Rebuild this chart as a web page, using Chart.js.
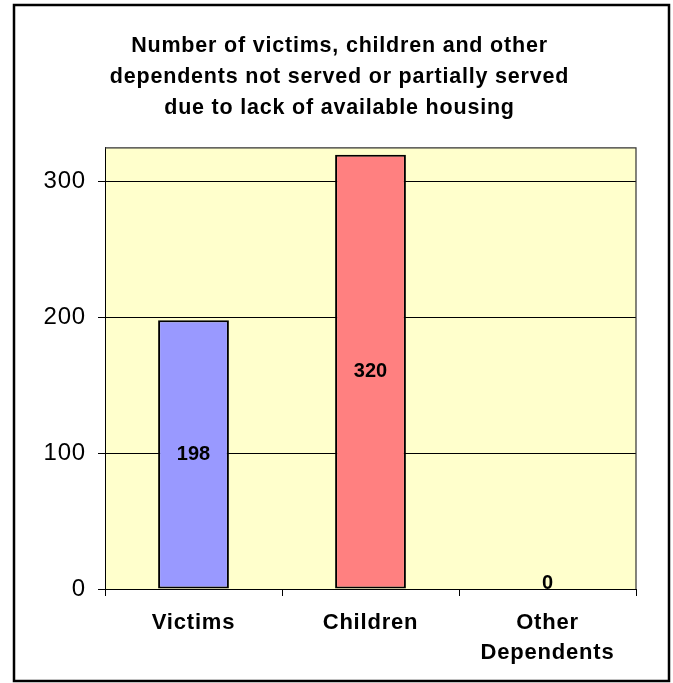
<!DOCTYPE html>
<html>
<head>
<meta charset="utf-8">
<script src="https://cdn.jsdelivr.net/npm/chart.js@4.4.1/dist/chart.umd.min.js"></script>
<style>
  html, body { margin: 0; padding: 0; background: #fff; }
  #wrap { width: 673px; height: 683px; }
</style>
</head>
<body>
<div id="wrap"><canvas id="chart" width="673" height="683"></canvas></div>
<script>
// chart data
const categories = [['Victims'], ['Children'], ['Other', 'Dependents']];
const counts = [198, 320, 0];
const barColors = ['#9999FF', '#FF8080', '#FFFF99'];
const yTicks = [0, 100, 200, 300];
const titleLines = [
    'Number of victims, children and other',
    'dependents not served or partially served',
    'due to lack of available housing'
];

const FONT = 'Arial, "Liberation Sans", sans-serif';

// yellow plot area with a frame round it
const plotArea = {
    id: 'plotArea',
    beforeDraw(chart) {
        const a = chart.chartArea, ctx = chart.ctx;
        ctx.save();
        ctx.fillStyle = '#FFFFCC';
        ctx.fillRect(a.left, a.top, a.right - a.left, a.bottom - a.top);
        ctx.restore();
        // excel-ish loose text spacing for title and axis labels
        ctx.letterSpacing = '0.8px';
    },
    afterDraw(chart) {
        const a = chart.chartArea, ctx = chart.ctx;
        ctx.letterSpacing = '0px';
        ctx.save();
        ctx.strokeStyle = '#333';
        ctx.lineWidth = 1.2;
        ctx.beginPath();
        ctx.moveTo(a.left, a.top);
        ctx.lineTo(a.right, a.top);
        ctx.lineTo(a.right, a.bottom);
        ctx.stroke();
        // outer chart frame
        ctx.strokeStyle = '#000';
        ctx.lineWidth = 2.5;
        ctx.strokeRect(14, 5, 655, 676);
        ctx.restore();
    }
};

// value labels in the middle of each bar
const barLabels = {
    id: 'barLabels',
    afterDatasetsDraw(chart) {
        const ctx = chart.ctx;
        const meta = chart.getDatasetMeta(0);
        ctx.save();
        ctx.letterSpacing = '0px';
        ctx.font = 'bold 20px ' + FONT;
        ctx.fillStyle = '#000';
        ctx.textAlign = 'center';
        ctx.textBaseline = 'middle';
        meta.data.forEach((bar, i) => {
            const v = counts[i];
            const y = v === 0 ? bar.base - 6 : (bar.y + bar.base) / 2;
            ctx.fillText(String(v), bar.x, y);
        });
        ctx.restore();
    }
};

new Chart(document.getElementById('chart'), {
    type: 'bar',
    data: {
        labels: categories,
        datasets: [{
            data: counts,
            backgroundColor: barColors,
            borderColor: '#000',
            borderWidth: 2,
            borderSkipped: false,
            categoryPercentage: 1,
            barPercentage: 0.4
        }]
    },
    options: {
        responsive: false,
        animation: false,
        devicePixelRatio: 1,
        layout: { padding: { left: 43, right: 37, top: 0, bottom: 14 } },
        plugins: {
            legend: { display: false },
            tooltip: { enabled: false },
            title: {
                display: true,
                text: titleLines,
                color: '#000',
                font: { family: FONT, size: 21.5, weight: 'bold', lineHeight: 1.44 },
                padding: { top: 31, bottom: 24 }
            }
        },
        scales: {
            x: {
                grid: {
                    offset: true,
                    drawOnChartArea: false,
                    drawTicks: true,
                    tickLength: 7,
                    color: '#000'
                },
                border: { color: '#000', width: 1 },
                ticks: {
                    color: '#000',
                    maxRotation: 0,
                    padding: 12,
                    font: { family: FONT, size: 22, weight: 'bold', lineHeight: 1.36 }
                },
                afterFit(scale) { scale.height = 80; }
            },
            y: {
                min: 0,
                max: 325,
                grid: { color: '#000', lineWidth: 1, tickLength: 7 },
                border: { color: '#000', width: 1 },
                ticks: {
                    stepSize: 100,
                    color: '#000',
                    padding: 12,
                    font: { family: FONT, size: 24 }
                },
                afterBuildTicks(scale) {
                    scale.ticks = yTicks.map(v => ({ value: v }));
                },
                afterFit(scale) { scale.width = 62; }
            }
        }
    },
    plugins: [plotArea, barLabels]
});
</script>
</body>
</html>
